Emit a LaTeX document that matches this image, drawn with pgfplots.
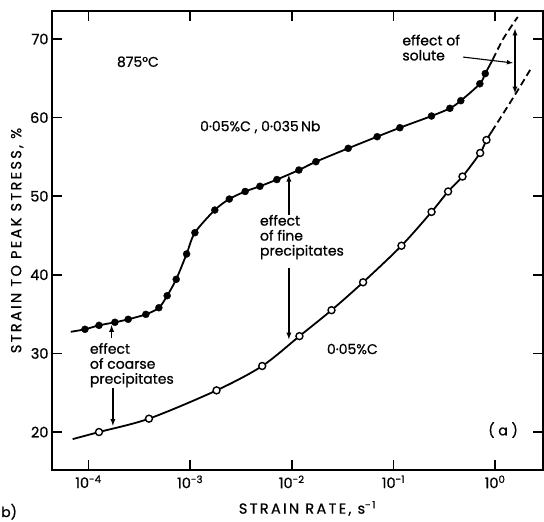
\documentclass[border=0pt]{standalone}
\usepackage{fontspec}
\setmainfont{Poppins}[FakeBold=0.8]
\newfontfamily\lblfont[LetterSpace=16, FakeBold=0.8]{Poppins}
\usepackage{pgfplots}
\pgfplotsset{compat=1.18}
\begin{document}
\begin{tikzpicture}
\begin{axis}[
    scale only axis,
    width=491pt, height=459pt,
    xmode=log,
    xmin=4.38e-5, xmax=2.96,
    ymin=15.17, ymax=73.56,
    axis line style={line width=1.8pt},
    tick style={line width=1.5pt, black},
    tick align=inside,
    major tick length=10pt,
    xminorticks=false,
    xtick={1e-4,1e-3,1e-2,1e-1,1},
    xticklabels={10\textsuperscript{-4},10\textsuperscript{-3},10\textsuperscript{-2},10\textsuperscript{-1},10\textsuperscript{0}},
    ytick={20,30,40,50,60,70},
    /pgf/number format/assume math mode=true,
    ticklabel style={font=\fontsize{14.5}{16}\selectfont},
    xticklabel style={yshift=-2pt},
    xlabel={\lblfont STRAIN RATE, s\textsuperscript{-1}},
    ylabel={\lblfont STRAIN TO PEAK STRESS, \%},
    xlabel style={yshift=-6pt, xshift=10pt},
    label style={font=\fontsize{14.5}{16}\selectfont},
    clip=false,
]
% 0.05%C, 0.035Nb (filled)
\addplot[black, line width=1.8pt, smooth] coordinates {
    (6.7e-5,32.75) (9.24e-5,33.07) (1.27e-4,33.57) (1.82e-4,33.96) (2.46e-4,34.34)
    (3.67e-4,34.97) (4.93e-4,35.81) (5.95e-4,37.34) (7.30e-4,39.43) (9.24e-4,42.65)
    (1.115e-3,45.36) (1.75e-3,48.24) (2.43e-3,49.64) (3.48e-3,50.6) (4.86e-3,51.26)
    (7.14e-3,52.12) (1.175e-2,53.33) (1.73e-2,54.39) (3.59e-2,56.09) (6.92e-2,57.57)
    (0.1157,58.71) (0.237,60.2) (0.359,61.18) (0.46,62.15) (0.708,64.3) (0.80,65.6) (0.95,67.4)
};
\addplot[black, line width=1.8pt, smooth, dash pattern=on 7pt off 4pt] coordinates {
    (0.95,67.4) (1.2,70.0) (1.67,72.8)
};
\addplot[only marks, mark=*, mark size=3.5pt, black] coordinates {
    (9.24e-5,33.07) (1.27e-4,33.57) (1.82e-4,33.96) (2.46e-4,34.34)
    (3.67e-4,34.97) (4.93e-4,35.81) (5.95e-4,37.34) (7.30e-4,39.43) (9.24e-4,42.65)
    (1.115e-3,45.36) (1.75e-3,48.24) (2.43e-3,49.64) (3.48e-3,50.6) (4.86e-3,51.26)
    (7.14e-3,52.12) (1.175e-2,53.33) (1.73e-2,54.39) (3.59e-2,56.09) (6.92e-2,57.57)
    (0.1157,58.71) (0.237,60.2) (0.359,61.18) (0.46,62.15) (0.708,64.3) (0.80,65.6)
};
% 0.05%C (open)
\addplot[black, line width=1.8pt, smooth] coordinates {
    (7.0e-5,19.1) (1.27e-4,20.0) (3.94e-4,21.7) (1.82e-3,25.3) (5.12e-3,28.4)
    (1.19e-2,32.2) (2.46e-2,35.5) (5.03e-2,39.05) (0.120,43.7) (0.237,48.0)
    (0.345,50.6) (0.478,52.5) (0.713,55.5) (0.823,57.15) (0.925,58.2)
};
\addplot[black, line width=1.8pt, smooth, dash pattern=on 7pt off 4pt] coordinates {
    (0.925,58.2) (1.57,62.9) (2.21,66.06)
};
\addplot[only marks, mark=*, mark size=3.5pt, draw=black, fill=white, line width=1.4pt] coordinates {
    (1.27e-4,20.0) (3.94e-4,21.7) (1.82e-3,25.3) (5.12e-3,28.4)
    (1.19e-2,32.2) (2.46e-2,35.5) (5.03e-2,39.05) (0.120,43.7) (0.237,48.0)
    (0.345,50.6) (0.478,52.5) (0.713,55.5) (0.823,57.15)
};
% annotations
\begin{scope}[every node/.style={font=\fontsize{14}{15}\selectfont, inner sep=0pt}]
\node[anchor=west] at (axis cs:1.9e-4,67.1) {875°C};
\node[anchor=west] at (axis cs:1.25e-3,58.8) {0·05\%C , 0·035\,Nb};
\node[anchor=west] at (axis cs:0.0221,30.56) {0·05\%C};
\node[anchor=west] at (axis cs:0.853,20.25) {( a )};
\node[anchor=west, align=left] at (axis cs:0.122,68.9) {effect of\\solute};
\node[anchor=west, align=left] at (axis cs:4.85e-3,44.8) {effect\\of fine\\precipitates};
\node[anchor=west, align=left] at (axis cs:1.03e-4,28.5) {effect\\of coarse\\precipitates};
\end{scope}
\draw[-latex, line width=1.1pt] (axis cs:0.484,67.7) -- (axis cs:1.50,66.95);
\draw[latex-latex, line width=1.3pt] (axis cs:1.57,71.3) -- (axis cs:1.57,63.1);
\draw[-latex, line width=1.3pt] (axis cs:9.37e-3,47.6) -- (axis cs:9.37e-3,52.7);
\draw[-latex, line width=1.3pt] (axis cs:9.37e-3,40.9) -- (axis cs:9.37e-3,31.8);
\draw[-latex, line width=1.3pt] (axis cs:1.69e-4,32.0) -- (axis cs:1.69e-4,33.6);
\draw[-latex, line width=1.3pt] (axis cs:1.74e-4,25.6) -- (axis cs:1.74e-4,20.8);
\end{axis}
\pgfresetboundingbox
\path (current axis.south west) ++(-52pt,-52pt) coordinate (bl);
\path (current axis.north east) ++(1pt,11pt) coordinate (tr);
\path (bl) rectangle (tr);
\node[anchor=base west, inner sep=0pt, font=\fontsize{14}{15}\selectfont] at ([shift={(1pt,5pt)}]bl) {b)};
\end{tikzpicture}
\end{document}
